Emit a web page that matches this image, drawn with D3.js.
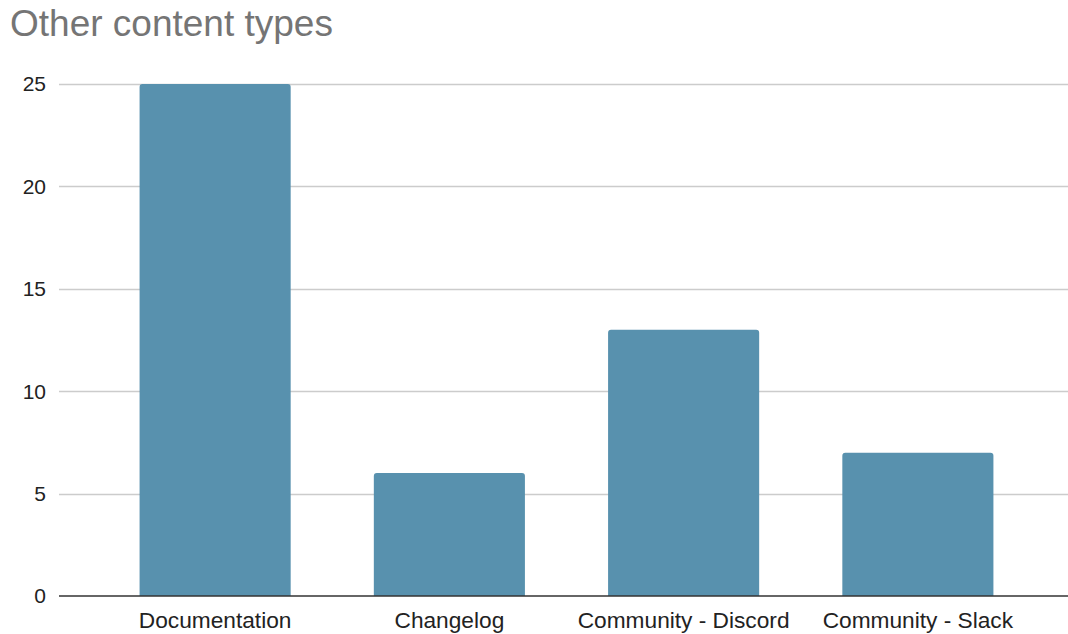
<!DOCTYPE html>
<html><head><meta charset="utf-8">
<script src="https://cdn.jsdelivr.net/npm/d3@7"></script>
<style>body{margin:0;background:#fff}svg{display:block}text{font-family:"Liberation Sans",Arial,sans-serif}</style>
</head><body>
<svg id="c" width="1068" height="634"></svg>
<script>
const categories = ["Documentation", "Changelog", "Community - Discord", "Community - Slack"];
const values = [25, 6, 13, 7];
const yTicks = [0, 5, 10, 15, 20, 25];
const title = "Other content types";

const svg = d3.select("#c");
const x = d3.scaleBand().domain(categories).range([98, 1035]).paddingInner(0.355).paddingOuter(0.1775);
const y = d3.scaleLinear().domain([0, 25]).range([596, 84]);

svg.append("text").attr("x", 10).attr("y", 36).attr("font-size", 37).attr("fill", "#757575").text(title);

// gridlines
svg.append("g").selectAll("line").data(yTicks.filter(d => d !== 0)).join("line")
  .attr("x1", 59).attr("x2", 1068).attr("y1", d => Math.round(y(d)) + 0.5).attr("y2", d => Math.round(y(d)) + 0.5)
  .attr("stroke", "#cccccc").attr("stroke-width", 1.5);

// y labels
svg.append("g").selectAll("text").data(yTicks).join("text")
  .attr("x", 46).attr("y", d => y(d)).attr("dy", "0.35em").attr("text-anchor", "end")
  .attr("font-size", 21).attr("fill", "#222").text(d => d);

// bars with rounded top corners
const r = 3;
svg.append("g").selectAll("path").data(values).join("path")
  .attr("fill", "#5891ae")
  .attr("d", (d, i) => {
    const x0 = x(categories[i]), w = x.bandwidth(), y0 = y(d), y1 = y(0);
    return `M${x0},${y1}V${y0 + r}Q${x0},${y0} ${x0 + r},${y0}H${x0 + w - r}Q${x0 + w},${y0} ${x0 + w},${y0 + r}V${y1}Z`;
  });

// baseline
svg.append("line").attr("x1", 59).attr("x2", 1068).attr("y1", y(0)).attr("y2", y(0)).attr("stroke", "#333").attr("stroke-width", 1.5);

// x labels
svg.append("g").selectAll("text").data(categories).join("text")
  .attr("x", d => x(d) + x.bandwidth() / 2).attr("y", 628).attr("text-anchor", "middle")
  .attr("font-size", 22.7).attr("fill", "#222").text(d => d);
</script>
</body></html>
